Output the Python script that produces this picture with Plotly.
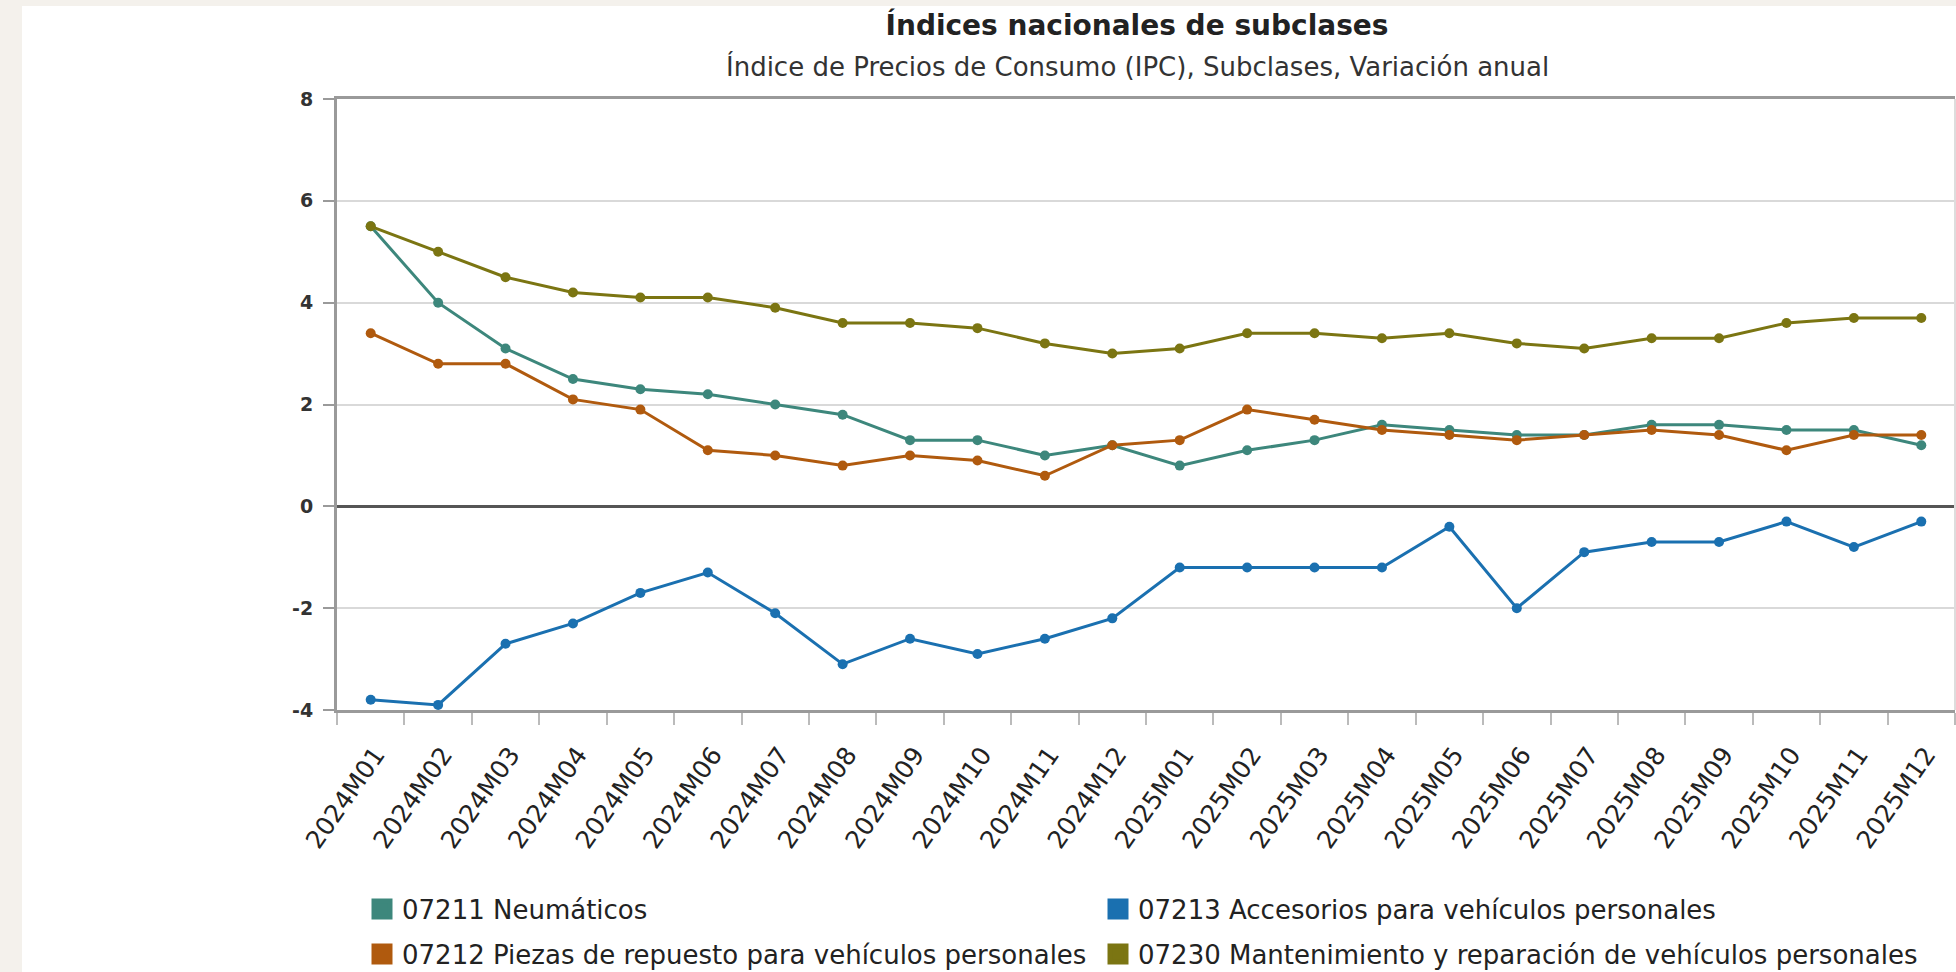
import plotly.graph_objects as go

# periods (x categories)
periods = [f"{y}M{m:02d}" for y in (2024, 2025) for m in range(1, 13)]

# annual variation (%)
neumaticos = [5.5, 4.0, 3.1, 2.5, 2.3, 2.2, 2.0, 1.8, 1.3, 1.3, 1.0, 1.2,
              0.8, 1.1, 1.3, 1.6, 1.5, 1.4, 1.4, 1.6, 1.6, 1.5, 1.5, 1.2]
piezas = [3.4, 2.8, 2.8, 2.1, 1.9, 1.1, 1.0, 0.8, 1.0, 0.9, 0.6, 1.2,
          1.3, 1.9, 1.7, 1.5, 1.4, 1.3, 1.4, 1.5, 1.4, 1.1, 1.4, 1.4]
accesorios = [-3.8, -3.9, -2.7, -2.3, -1.7, -1.3, -2.1, -3.1, -2.6, -2.9, -2.6, -2.2,
              -1.2, -1.2, -1.2, -1.2, -0.4, -2.0, -0.9, -0.7, -0.7, -0.3, -0.8, -0.3]
mantenimiento = [5.5, 5.0, 4.5, 4.2, 4.1, 4.1, 3.9, 3.6, 3.6, 3.5, 3.2, 3.0,
                 3.1, 3.4, 3.4, 3.3, 3.4, 3.2, 3.1, 3.3, 3.3, 3.6, 3.7, 3.7]

y_ticks = [-4, -2, 0, 2, 4, 6, 8]
y_ticktext = ["-4", "-2", "0", "2", "4", "6", "8"]

names = {
    "neu": "07211 Neumáticos",
    "acc": "07213 Accesorios para vehículos personales",
    "pie": "07212 Piezas de repuesto para vehículos personales",
    "man": "07230 Mantenimiento y reparación de vehículos personales",
}
colors = {"neu": "#3d877c", "acc": "#1a70b0", "pie": "#b05a0e", "man": "#7b7512"}

W, H = 1956, 972
L, R, T, B = 337, 1, 99, 262
PW = W - L - R
PH = H - T - B


def px_x(px):
    return (px - L) / PW


def px_y(py):
    return (H - B - py) / PH


FONT = "DejaVu Sans"

fig = go.Figure()

# draw order: teal, blue, orange, olive on top
for key, vals in [("neu", neumaticos), ("acc", accesorios), ("pie", piezas), ("man", mantenimiento)]:
    fig.add_trace(go.Scatter(
        x=periods, y=vals, mode="lines+markers", name=names[key],
        line=dict(color=colors[key], width=3),
        marker=dict(color=colors[key], size=10),
        showlegend=False,
    ))

# legend swatches: one small legend per entry, laid out in 2 rows x 2 columns
legend_pos = {"neu": ("legend", 362, 909), "acc": ("legend2", 1098, 909),
              "pie": ("legend3", 362, 954), "man": ("legend4", 1098, 954)}
legend_layout = {}
for key in ["neu", "acc", "pie", "man"]:
    leg, lx, ly = legend_pos[key]
    fig.add_trace(go.Scatter(
        x=[None], y=[None], mode="markers", name=names[key],
        marker=dict(symbol="square", size=16, color=colors[key],
                    line=dict(color=colors[key], width=5)),
        legend=leg, showlegend=True,
    ))
    legend_layout[leg] = dict(
        x=lx / W, y=1 - ly / H, xref="container", yref="container",
        xanchor="left", yanchor="middle", orientation="h",
        font=dict(family=FONT, size=26, color="#222"),
        bgcolor="rgba(0,0,0,0)", borderwidth=0,
        itemclick=False, itemdoubleclick=False,
    )

fig.update_layout(
    width=W, height=H, autosize=False,
    margin=dict(l=L, r=R, t=T, b=B),
    paper_bgcolor="#f4f1ec",
    plot_bgcolor="white",
    title=dict(
        text="Índices nacionales de subclases",
        font=dict(family=FONT, size=28, color="#222", weight="bold"),
        x=1137 / W, xref="container", xanchor="center",
        y=1 - 15 / H, yref="container", yanchor="top",
    ),
    annotations=[dict(
        text="Índice de Precios de Consumo (IPC), Subclases, Variación anual",
        xref="paper", yref="paper", x=px_x(1137), y=px_y(67),
        xanchor="center", yanchor="middle", showarrow=False,
        font=dict(family=FONT, size=26, color="#333"),
    )],
    xaxis=dict(
        type="category", range=[-0.5, 23.5],
        showgrid=False, zeroline=False,
        showline=True, linecolor="#9a9a9a", linewidth=3, mirror=True,
        ticks="outside", tickson="boundaries", ticklen=12, tickcolor="#bbb", tickwidth=2,
        tickangle=-55, ticklabelstandoff=17, ticklabelshift=5,
        tickfont=dict(family=FONT, size=25, color="#222"),
        automargin=False,
    ),
    yaxis=dict(
        range=[-4, 8], tickvals=y_ticks, ticktext=y_ticktext,
        showgrid=True, gridcolor="#d9d9d9", gridwidth=2,
        zeroline=True, zerolinecolor="#555", zerolinewidth=2.5,
        showline=True, linecolor="#9a9a9a", linewidth=3,
        ticks="outside", ticklen=11, tickcolor="#9a9a9a", tickwidth=2,
        ticklabelstandoff=6,
        tickfont=dict(family=FONT, size=19, color="#333", weight="bold"),
        automargin=False,
    ),
    shapes=[
        # white card behind the chart
        dict(type="rect", xref="paper", yref="paper", layer="below",
             x0=px_x(22), x1=px_x(W + 20), y0=px_y(6), y1=px_y(H + 20),
             fillcolor="white", line=dict(width=0)),
        # light right border of the plot box
        dict(type="line", xref="paper", yref="paper",
             x0=1, x1=1, y0=0, y1=1, line=dict(color="#dddddd", width=2)),
    ],
    showlegend=True,
    **legend_layout,
)

# drop the default page margin so the figure sits at the window's corner
fig.write_html("out.html", config={"displayModeBar": False},
               post_script="document.body.style.margin='0';")
